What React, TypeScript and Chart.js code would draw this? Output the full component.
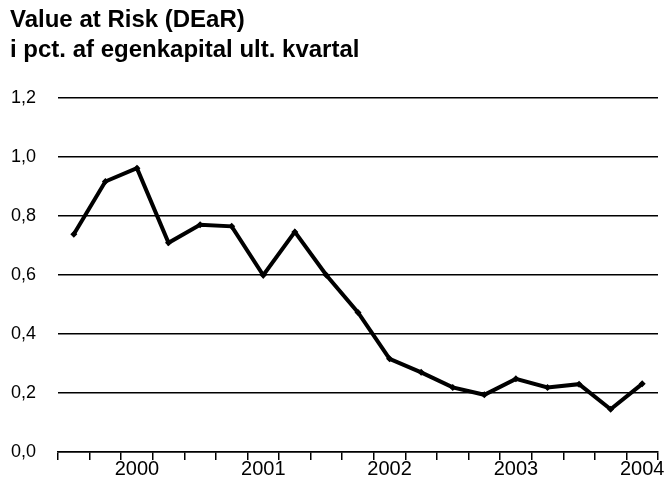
import React, { useEffect, useRef } from "react";
import { Chart, registerables } from "chart.js";

Chart.register(...registerables);

const titleLines = ["Value at Risk (DEaR)", "i pct. af egenkapital ult. kvartal"];

// One tick label per quarter; only the year quarters carry text
const quarterLabels = [
  "", "", "2000", "", "", "", "2001", "", "", "", "2002", "", "", "", "2003", "", "", "", "2004",
];

const varValues = [
  0.738, 0.917, 0.962, 0.709, 0.770, 0.765, 0.599, 0.746, 0.599, 0.473,
  0.316, 0.270, 0.219, 0.194, 0.248, 0.219, 0.230, 0.145, 0.231,
];

const yMin = 0;
const yMax = 1.2;
const yStep = 0.2;

const FONT = "'Liberation Sans', Arial, sans-serif";

export default function App() {
  const canvasRef = useRef<HTMLCanvasElement | null>(null);

  useEffect(() => {
    document.body.style.margin = "0";
    const canvas = canvasRef.current;
    if (!canvas) return;
    const chart = new Chart(canvas, {
      type: "line",
      data: {
        labels: quarterLabels,
        datasets: [
          {
            data: varValues,
            borderColor: "#000000",
            backgroundColor: "#000000",
            borderWidth: 4,
            pointStyle: "rectRot",
            pointRadius: 3.5,
            pointBorderWidth: 0,
            pointBackgroundColor: "#000000",
            tension: 0,
            fill: false,
          },
        ],
      },
      options: {
        animation: false,
        responsive: true,
        maintainAspectRatio: false,
        layout: { padding: { left: 10, right: 6, top: 0, bottom: 15 } },
        plugins: {
          legend: { display: false },
          tooltip: { enabled: false },
          title: {
            display: true,
            text: titleLines,
            align: "start",
            color: "#000000",
            font: { family: FONT, size: 24, weight: "bold", lineHeight: 1.25 },
            padding: { top: 5, bottom: 33 },
          },
        },
        scales: {
          x: {
            type: "category",
            offset: true,
            grid: {
              display: true,
              offset: true,
              drawOnChartArea: false,
              drawTicks: true,
              tickLength: 8,
              color: "#000000",
              lineWidth: 1.5,
            },
            border: { display: true, color: "#000000", width: 1.5 },
            ticks: {
              autoSkip: false,
              maxRotation: 0,
              minRotation: 0,
              padding: -3,
              color: "#000000",
              font: { family: FONT, size: 20 },
            },
          },
          y: {
            min: yMin,
            max: yMax,
            afterFit: (scale: any) => {
              scale.width = 48;
            },
            grid: {
              display: true,
              drawTicks: false,
              color: "#000000",
              lineWidth: 1.5,
            },
            border: { display: false },
            ticks: {
              stepSize: yStep,
              padding: 22,
              color: "#000000",
              font: { family: FONT, size: 18 },
              callback: (v: any) => Number(v).toFixed(1).replace(".", ","),
            },
          },
        },
      },
    });
    return () => chart.destroy();
  }, []);

  return (
    <div style={{ position: "absolute", left: 0, top: 0, width: 664, height: 493, background: "#fff" }}>
      <canvas ref={canvasRef} />
    </div>
  );
}
